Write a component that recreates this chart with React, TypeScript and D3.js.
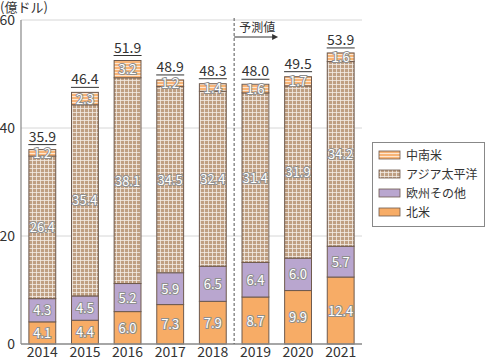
import React, { useEffect, useRef } from 'react';
import * as d3 from 'd3';

const years = ['2014', '2015', '2016', '2017', '2018', '2019', '2020', '2021'];
const northAmerica = [4.1, 4.4, 6.0, 7.3, 7.9, 8.7, 9.9, 12.4];
const europeOther = [4.3, 4.5, 5.2, 5.9, 6.5, 6.4, 6.0, 5.7];
const asiaPacific = [26.4, 35.4, 38.1, 34.5, 32.4, 31.4, 31.9, 34.2];
const latinAmerica = [1.2, 2.3, 3.2, 1.2, 1.4, 1.6, 1.7, 1.6];
const totals = [35.9, 46.4, 51.9, 48.9, 48.3, 48.0, 49.5, 53.9];
const yTicks = [0, 20, 40, 60];

const seriesNames = ['北米', '欧州その他', 'アジア太平洋', '中南米'];

const FONT = "'Noto Sans CJK JP', 'Noto Sans', sans-serif";

const App: React.FC = () => {
  const svgRef = useRef<SVGSVGElement | null>(null);

  useEffect(() => {
    if (!svgRef.current) return;
    const svg = d3.select(svgRef.current);
    svg.selectAll('*').remove();

    const width = 486;
    const height = 360;
    const margin = { top: 20, right: 124, bottom: 16, left: 21 };

    const defs = svg.append('defs');
    const grid = defs.append('pattern')
      .attr('id', 'asia').attr('patternUnits', 'userSpaceOnUse')
      .attr('width', 4).attr('height', 4);
    grid.append('rect').attr('width', 4).attr('height', 4).attr('fill', '#bf9f82');
    grid.append('path').attr('d', 'M0,0.5H4M0.5,0V4').attr('stroke', '#f4ede6').attr('stroke-width', 0.8);

    const lines = defs.append('pattern')
      .attr('id', 'latam').attr('patternUnits', 'userSpaceOnUse')
      .attr('width', 4).attr('height', 3);
    lines.append('rect').attr('width', 4).attr('height', 3).attr('fill', '#f8b476');
    lines.append('path').attr('d', 'M0,0.5H4').attr('stroke', '#fde7d2').attr('stroke-width', 1);

    const fills = ['#f7ac66', '#b9a6cf', 'url(#asia)', 'url(#latam)'];

    const x = d3.scaleBand<string>()
      .domain(years)
      .range([margin.left, width - margin.right])
      .paddingInner(0.37)
      .paddingOuter(0.185);

    const y = d3.scaleLinear()
      .domain([0, 60])
      .range([height - margin.bottom, margin.top]);

    // gridlines
    svg.append('g').selectAll('line')
      .data(yTicks.filter(t => t > 0))
      .enter().append('line')
      .attr('x1', margin.left).attr('x2', width - margin.right)
      .attr('y1', d => y(d)).attr('y2', d => y(d))
      .attr('stroke', '#d6d6d6').attr('stroke-width', 1);

    // y tick labels
    svg.append('g').selectAll('text')
      .data(yTicks)
      .enter().append('text')
      .attr('x', 15).attr('y', d => y(d) + 5)
      .attr('text-anchor', 'end')
      .attr('font-family', FONT).attr('font-size', 14).attr('fill', '#333')
      .text(d => d);

    svg.append('text')
      .attr('x', 0).attr('y', 12)
      .attr('font-family', FONT).attr('font-size', 13).attr('fill', '#333')
      .text('(億ドル)');

    const stackData = years.map((yr, i) => ({
      year: yr,
      s0: northAmerica[i], s1: europeOther[i], s2: asiaPacific[i], s3: latinAmerica[i],
    }));
    const stacked = d3.stack<any>().keys(['s0', 's1', 's2', 's3'])(stackData);

    stacked.forEach((layer, li) => {
      const g = svg.append('g');
      g.selectAll('rect')
        .data(layer)
        .enter().append('rect')
        .attr('x', d => x(d.data.year) || 0)
        .attr('width', x.bandwidth())
        .attr('y', d => y(d[1]))
        .attr('height', d => y(d[0]) - y(d[1]))
        .attr('fill', fills[li])
        .attr('stroke', '#6e5a4e').attr('stroke-width', 1);
      g.selectAll('text')
        .data(layer)
        .enter().append('text')
        .attr('x', d => (x(d.data.year) || 0) + x.bandwidth() / 2)
        .attr('y', d => (y(d[0]) + y(d[1])) / 2 + 5)
        .attr('text-anchor', 'middle')
        .attr('font-family', FONT).attr('font-size', 13)
        .attr('fill', '#fff').attr('stroke', '#8f8f8f').attr('stroke-width', 2)
        .attr('paint-order', 'stroke')
        .text(d => (d[1] - d[0]).toFixed(1));
    });

    // totals
    const tg = svg.append('g');
    years.forEach((yr, i) => {
      const cx = (x(yr) || 0) + x.bandwidth() / 2;
      const top = y(d3.sum([northAmerica[i], europeOther[i], asiaPacific[i], latinAmerica[i]]));
      tg.append('text')
        .attr('x', cx).attr('y', top - 8)
        .attr('text-anchor', 'middle')
        .attr('font-family', FONT).attr('font-size', 14).attr('fill', '#333')
        .text(totals[i].toFixed(1));
      tg.append('line')
        .attr('x1', cx - 14).attr('x2', cx + 14)
        .attr('y1', top - 5).attr('y2', top - 5)
        .attr('stroke', '#333').attr('stroke-width', 1);
    });

    // axes lines
    svg.append('line')
      .attr('x1', margin.left).attr('x2', margin.left)
      .attr('y1', margin.top).attr('y2', y(0))
      .attr('stroke', '#888').attr('stroke-width', 1.2);
    svg.append('line')
      .attr('x1', margin.left).attr('x2', width - margin.right)
      .attr('y1', y(0)).attr('y2', y(0))
      .attr('stroke', '#888').attr('stroke-width', 1.5);

    // year labels
    svg.append('g').selectAll('text')
      .data(years)
      .enter().append('text')
      .attr('x', d => (x(d) || 0) + x.bandwidth() / 2)
      .attr('y', height - 3)
      .attr('text-anchor', 'middle')
      .attr('font-family', FONT).attr('font-size', 14).attr('fill', '#333')
      .text(d => d);

    // forecast divider
    const divX = ((x('2018') || 0) + x.bandwidth() + (x('2019') || 0)) / 2;
    svg.append('line')
      .attr('x1', divX).attr('x2', divX)
      .attr('y1', margin.top - 2).attr('y2', y(0))
      .attr('stroke', '#555').attr('stroke-width', 1).attr('stroke-dasharray', '3,2');
    svg.append('text')
      .attr('x', divX + 5).attr('y', 32)
      .attr('font-family', FONT).attr('font-size', 12).attr('fill', '#333')
      .text('予測値');
    svg.append('line')
      .attr('x1', divX).attr('x2', divX + 40)
      .attr('y1', 37).attr('y2', 37)
      .attr('stroke', '#333').attr('stroke-width', 1);
    svg.append('path')
      .attr('d', `M${divX + 44},37L${divX + 38},34L${divX + 38},40Z`)
      .attr('fill', '#333');

    // legend
    const lg = svg.append('g');
    lg.append('rect')
      .attr('x', 372.5).attr('y', 142.5).attr('width', 112).attr('height', 84)
      .attr('fill', '#fff').attr('stroke', '#888');
    const order = [3, 2, 1, 0];
    order.forEach((si, k) => {
      const ry = 155 + k * 19;
      lg.append('rect')
        .attr('x', 379).attr('y', ry - 4).attr('width', 21).attr('height', 8)
        .attr('fill', fills[si]).attr('stroke', '#6e5a4e').attr('stroke-width', 0.8);
      lg.append('text')
        .attr('x', 406).attr('y', ry + 4.5)
        .attr('font-family', FONT).attr('font-size', 12).attr('fill', '#333')
        .text(seriesNames[si]);
    });
  }, []);

  return (
    <svg
      ref={svgRef}
      width={486}
      height={360}
      style={{ position: 'absolute', left: 0, top: 0, overflow: 'visible' }}
    ></svg>
  );
};

export default App;
